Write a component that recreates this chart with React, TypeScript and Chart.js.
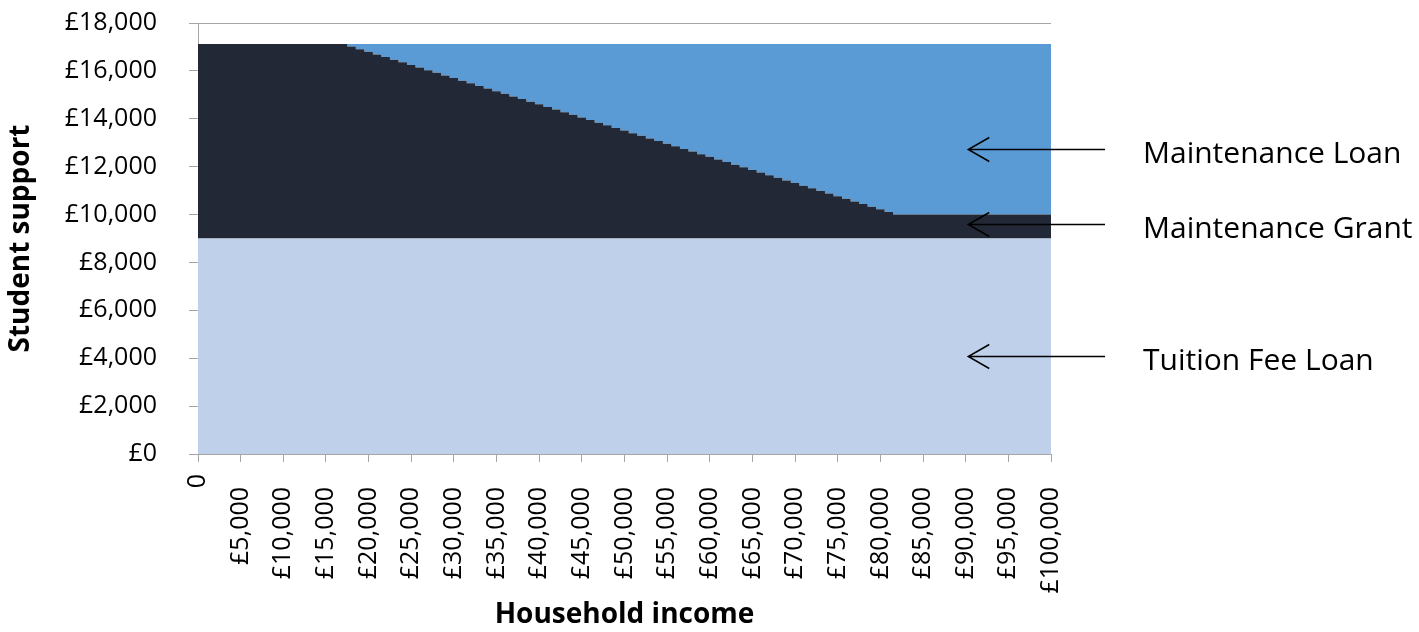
import React, { useEffect, useRef } from 'react';
import { Chart, registerables } from 'chart.js';

Chart.register(...registerables);

// Household income (x) at which each stepped value starts
const incomes = [
  0,
  17500, 18500, 19500, 20500, 21500, 22500, 23500, 24500, 25500, 26500,
  27500, 28500, 29500, 30500, 31500, 32500, 33500, 34500, 35500, 36500,
  37500, 38500, 39500, 40500, 41500, 42500, 43500, 44500, 45500, 46500,
  47500, 48500, 49500, 50500, 51500, 52500, 53500, 54500, 55500, 56500,
  57500, 58500, 59500, 60500, 61500, 62500, 63500, 64500, 65500, 66500,
  67500, 68500, 69500, 70500, 71500, 72500, 73500, 74500, 75500, 76500,
  77500, 78500, 79500, 80500, 81500,
  100000,
];

const tuitionFeeLoan = [
  9000,
  9000, 9000, 9000, 9000, 9000, 9000, 9000, 9000, 9000, 9000,
  9000, 9000, 9000, 9000, 9000, 9000, 9000, 9000, 9000, 9000,
  9000, 9000, 9000, 9000, 9000, 9000, 9000, 9000, 9000, 9000,
  9000, 9000, 9000, 9000, 9000, 9000, 9000, 9000, 9000, 9000,
  9000, 9000, 9000, 9000, 9000, 9000, 9000, 9000, 9000, 9000,
  9000, 9000, 9000, 9000, 9000, 9000, 9000, 9000, 9000, 9000,
  9000, 9000, 9000, 9000, 9000,
  9000,
];

const maintenanceGrant = [
  8125,
  8015, 7906, 7796, 7687, 7577, 7467, 7358, 7248, 7138, 7029,
  6919, 6810, 6700, 6590, 6481, 6371, 6262, 6152, 6042, 5933,
  5823, 5713, 5604, 5494, 5385, 5275, 5165, 5056, 4946, 4837,
  4727, 4617, 4508, 4398, 4288, 4179, 4069, 3960, 3850, 3740,
  3631, 3521, 3412, 3302, 3192, 3083, 2973, 2863, 2754, 2644,
  2535, 2425, 2315, 2206, 2096, 1987, 1877, 1767, 1658, 1548,
  1438, 1329, 1219, 1110, 1000,
  1000,
];

const maintenanceLoan = [
  0,
  110, 219, 329, 438, 548, 658, 767, 877, 987, 1096,
  1206, 1315, 1425, 1535, 1644, 1754, 1863, 1973, 2083, 2192,
  2302, 2412, 2521, 2631, 2740, 2850, 2960, 3069, 3179, 3288,
  3398, 3508, 3617, 3727, 3837, 3946, 4056, 4165, 4275, 4385,
  4494, 4604, 4713, 4823, 4933, 5042, 5152, 5262, 5371, 5481,
  5590, 5700, 5810, 5919, 6029, 6138, 6248, 6358, 6467, 6577,
  6687, 6796, 6906, 7015, 7125,
  7125,
];

const xTickLabels = [
  '0', '£5,000', '£10,000', '£15,000', '£20,000', '£25,000', '£30,000',
  '£35,000', '£40,000', '£45,000', '£50,000', '£55,000', '£60,000',
  '£65,000', '£70,000', '£75,000', '£80,000', '£85,000', '£90,000',
  '£95,000', '£100,000',
];

const yTickLabels = [
  '£0', '£2,000', '£4,000', '£6,000', '£8,000', '£10,000',
  '£12,000', '£14,000', '£16,000', '£18,000',
];

const annotationLabels = ['Maintenance Loan', 'Maintenance Grant', 'Tuition Fee Loan'];
const annotationValues = [12750, 9600, 4080];
const arrowTipIncome = 90300;

const GREY = '#a6a6a6';

const arrowsPlugin = {
  id: 'sideArrows',
  afterDraw(chart: any) {
    const { ctx, chartArea, scales } = chart;
    const xs = scales.x;
    const ys = scales.y;
    ctx.save();
    annotationLabels.forEach((label, i) => {
      const py = Math.round(ys.getPixelForValue(annotationValues[i])) + 0.5;
      const tip = xs.getPixelForValue(arrowTipIncome);
      const tail = chartArea.right + 54;
      ctx.strokeStyle = '#000';
      ctx.lineWidth = 1.5;
      ctx.beginPath();
      ctx.moveTo(tip, py);
      ctx.lineTo(tail, py);
      ctx.moveTo(tip + 21, py - 12);
      ctx.lineTo(tip, py);
      ctx.lineTo(tip + 21, py + 12);
      ctx.stroke();
      ctx.fillStyle = '#000';
      ctx.font = "30px 'Open Sans'";
      ctx.textAlign = 'left';
      ctx.textBaseline = 'alphabetic';
      ctx.fillText(label, chartArea.right + 92, py + 13);
    });
    ctx.restore();
  },
};

export default function App() {
  const canvasRef = useRef<HTMLCanvasElement | null>(null);

  useEffect(() => {
    document.body.style.margin = '0';
    const canvas = canvasRef.current;
    if (!canvas) return;
    Chart.defaults.font.family = "'Open Sans', sans-serif";

    const toPoints = (vals: number[]) => incomes.map((x, i) => ({ x, y: vals[i] }));

    const chart = new Chart(canvas, {
      type: 'line',
      data: {
        datasets: [
          {
            label: 'Tuition Fee Loan',
            data: toPoints(tuitionFeeLoan),
            backgroundColor: '#bfd1ea',
            borderColor: 'rgba(0,0,0,0)',
            borderWidth: 0,
            pointRadius: 0,
            stepped: true,
            fill: 'origin',
          },
          {
            label: 'Maintenance Grant',
            data: toPoints(maintenanceGrant),
            backgroundColor: '#222835',
            borderColor: 'rgba(0,0,0,0)',
            borderWidth: 0,
            pointRadius: 0,
            stepped: true,
            fill: '-1',
          },
          {
            label: 'Maintenance Loan',
            data: toPoints(maintenanceLoan),
            backgroundColor: '#5b9bd5',
            borderColor: 'rgba(0,0,0,0)',
            borderWidth: 0,
            pointRadius: 0,
            stepped: true,
            fill: '-1',
          },
        ],
      },
      options: {
        responsive: false,
        animation: false,
        events: [],
        layout: { padding: { top: 23, right: 368, left: 0, bottom: 0 } },
        plugins: {
          legend: { display: false },
          tooltip: { enabled: false },
        },
        scales: {
          x: {
            type: 'linear',
            min: 0,
            max: 100000,
            z: 1,
            border: { display: true, color: GREY, width: 1 },
            grid: { drawOnChartArea: false, drawTicks: true, tickLength: 8, tickColor: GREY },
            ticks: {
              stepSize: 5000,
              autoSkip: false,
              minRotation: 90,
              maxRotation: 90,
              padding: 12,
              color: '#000',
              font: { size: 25 },
              callback: (v: any) => {
                const idx = Math.round(Number(v) / 5000);
                const lbl = xTickLabels[idx];
                return idx === 0 ? lbl : lbl + '  ';
              },
            },
            title: {
              display: true,
              text: 'Household income',
              color: '#000',
              font: { size: 28, weight: 'bold' },
              padding: { top: 0, bottom: 0 },
            },
            afterFit: (s: any) => {
              s.height = 178;
              s.paddingLeft = 0;
              s.paddingRight = 0;
              s.paddingTop = 0;
              s.paddingBottom = 0;
            },
          },
          y: {
            stacked: true,
            min: 0,
            max: 18000,
            z: 1,
            border: { display: true, color: GREY, width: 1 },
            grid: {
              color: (c: any) => (c.tick && c.tick.value === 18000 ? GREY : 'rgba(0,0,0,0)'),
              tickColor: GREY,
              tickLength: 9,
            },
            ticks: {
              stepSize: 2000,
              padding: 32,
              color: '#000',
              font: { size: 25 },
              callback: (v: any) => yTickLabels[Math.round(Number(v) / 2000)],
            },
            title: {
              display: true,
              text: 'Student support',
              color: '#000',
              font: { size: 28, weight: 'bold' },
              padding: { top: 4, bottom: 0 },
            },
            afterFit: (s: any) => {
              s.width = 198;
              s.paddingTop = 0;
              s.paddingBottom = 0;
              s.paddingLeft = 0;
              s.paddingRight = 0;
            },
          },
        },
      },
      plugins: [arrowsPlugin],
    } as any);

    return () => {
      chart.destroy();
    };
  }, []);

  return (
    <div style={{ width: 1419, height: 632 }}>
      <canvas ref={canvasRef} width={1419} height={632} style={{ display: 'block' }} />
    </div>
  );
}
